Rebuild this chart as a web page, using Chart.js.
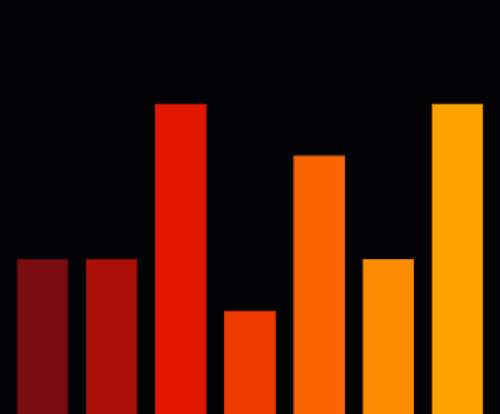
<!DOCTYPE html>
<html>
<head>
<meta charset="utf-8">
<script src="https://cdn.jsdelivr.net/npm/chart.js@4/dist/chart.umd.min.js"></script>
<style>
html,body{margin:0;padding:0;background:#030204;}
#wrap{width:500px;height:414px;}
</style>
</head>
<body>
<div id="wrap"><canvas id="c"></canvas></div>
<script>
const categories = ["A","B","C","D","E","F","G"];
const values = [3,3,6,2,5,3,6];
const barColors = ["#790d12","#aa0f08","#e31600","#f03b00","#f96400","#ff8c00","#ffa200"];
const borderColors = ["#6e0c10","#9e0e08","#d81500","#e43800","#ec5f00","#f08400","#f09800"];

new Chart(document.getElementById('c'), {
  type: 'bar',
  data: {
    labels: categories,
    datasets: [{
      data: values,
      backgroundColor: barColors,
      borderColor: borderColors,
      borderWidth: 1,
      barPercentage: 0.75,
      categoryPercentage: 1.0
    }]
  },
  options: {
    responsive: true,
    maintainAspectRatio: false,
    animation: false,
    layout: { padding: { left: 8, right: 8, top: 0, bottom: 0 } },
    plugins: { legend: { display: false }, tooltip: { enabled: false } },
    scales: {
      x: { display: false },
      y: { display: false, min: 0, max: 8 }
    }
  }
});
</script>
</body>
</html>
